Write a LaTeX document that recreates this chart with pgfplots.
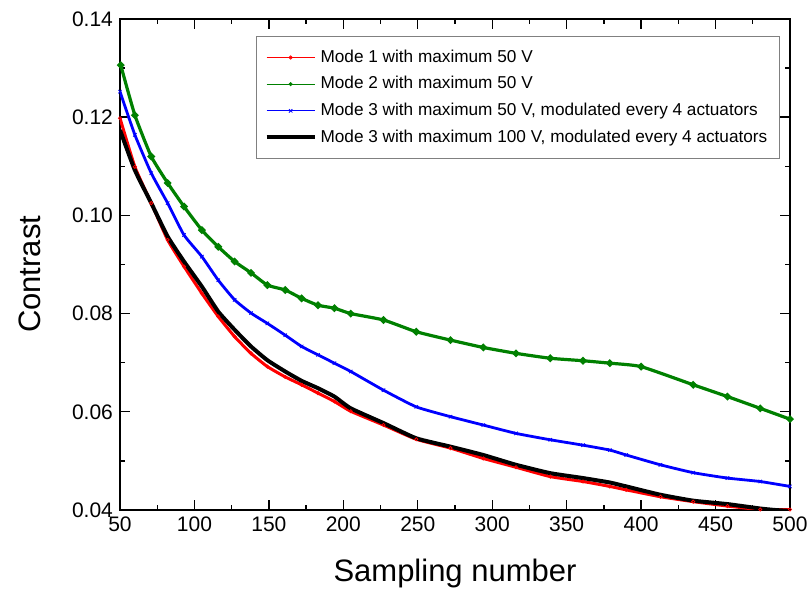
\documentclass[border=0pt]{standalone}
\usepackage{pgfplots}
\pgfplotsset{compat=1.18}
\usepackage{fontspec}
\setmainfont{Liberation Sans}
\definecolor{mgreen}{RGB}{0,128,0}
\begin{document}
\begin{tikzpicture}
\begin{axis}[
  at={(0,0)}, anchor=south west,
  scale only axis, width=335pt, height=245.5pt,
  xmin=50, xmax=500, ymin=0.04, ymax=0.14,
  xtick={50,100,...,500}, minor x tick num=1,
  ytick={0.04,0.06,...,0.141}, minor y tick num=1,
  tick align=inside, major tick length=5pt, minor tick length=2.5pt,
  every tick/.style={black, line width=0.7pt},
  axis line style={line width=1pt},
  yticklabel style={/pgf/number format/.cd, fixed, fixed zerofill, precision=2},
  /pgf/number format/assume math mode=true,
  ticklabel style={font=\fontsize{10.5}{12}\selectfont},
  xlabel={Sampling number}, ylabel={Contrast},
  every axis x label/.style={at={(axis description cs:0.5,0)}, anchor=base, yshift=-36pt, font=\fontsize{15.5}{18}\selectfont},
  every axis y label/.style={at={(axis description cs:-0.134,0.48)}, anchor=center, rotate=90, font=\fontsize{15.5}{18}\selectfont},
  legend style={at={(0.985,0.965)}, anchor=north east, draw=gray, line width=0.6pt,
    font=\fontsize{8.6}{10}\selectfont, row sep=1.6pt, inner ysep=4.5pt, inner xsep=4pt},
  legend cell align=left,
  legend image code/.code={\draw[mark repeat=2,mark phase=2] plot coordinates {(0cm,0cm) (0.42cm,0cm) (0.84cm,0cm)};},
  clip=true,
]
\addlegendimage{red, line width=0.4pt, mark=o, mark size=0.8pt}
\addlegendentry{Mode 1 with maximum 50 V}
\addlegendimage{mgreen, line width=0.4pt, mark=*, mark size=0.8pt}
\addlegendentry{Mode 2 with maximum 50 V}
\addlegendimage{blue, line width=0.4pt, mark=x, mark size=1.2pt}
\addlegendentry{Mode 3 with maximum 50 V, modulated every 4 actuators}
\addlegendimage{black, line width=2pt}
\addlegendentry{Mode 3 with maximum 100 V, modulated every 4 actuators}

% Mode 1 (red)
\addplot[forget plot, red, line width=1.5pt, smooth, tension=0.3, mark=o, mark size=0.8pt, mark options={fill=red!25, line width=0.4pt}] coordinates {
(50,0.1198) (60,0.1099) (71,0.1025) (82,0.0950) (93,0.0896) (105,0.0841) (116,0.0794)
(127,0.0753) (138,0.0719) (149,0.0692) (161,0.0671) (172,0.0655) (183,0.0638) (194,0.0621)
(205,0.0601) (227,0.0573) (249,0.0544) (272,0.0526) (294,0.0505) (316,0.0487) (339,0.0468)
(361,0.0458) (379,0.0448) (390,0.0441) (413,0.0427) (435,0.0417) (458,0.0408) (480,0.0401) (500,0.0401)
};
% Mode 2 (green)
\addplot[forget plot, mgreen, line width=1.6pt, smooth, tension=0.3, mark=*, mark size=0.9pt] coordinates {
(50.5,0.1306) (60,0.1204) (71,0.1120) (82,0.1066) (93,0.1018) (105,0.0970) (116,0.0936)
(127,0.0906) (138,0.0883) (149,0.0858) (161,0.0848) (172,0.0831) (183,0.0817) (194,0.0811)
(205,0.0800) (227,0.0787) (249,0.0763) (272,0.0746) (294,0.0731) (316,0.0719) (339,0.0709)
(361,0.0704) (379,0.0699) (400,0.0692) (435,0.0655) (458,0.0631) (480,0.0607) (500,0.0585)
};
% Mode 3 50 V (blue)
\addplot[forget plot, blue, line width=1.4pt, smooth, tension=0.3, mark=x, mark size=1.2pt, mark options={line width=0.4pt}] coordinates {
(50,0.1252) (60,0.1164) (71,0.1086) (82,0.1025) (93,0.0960) (105,0.0916) (116,0.0868)
(127,0.0828) (138,0.0801) (149,0.0780) (161,0.0756) (172,0.0733) (183,0.0716) (194,0.0699)
(205,0.0682) (227,0.0644) (249,0.0610) (272,0.0590) (294,0.0573) (316,0.0556) (339,0.0543)
(361,0.0532) (379,0.0522) (390,0.0512) (413,0.0492) (435,0.0476) (458,0.0465) (480,0.0458) (500,0.0448)
};
% Mode 3 100 V (black)
\addplot[forget plot, black, line width=2pt, smooth, tension=0.3] coordinates {
(50,0.1174) (60,0.1092) (71,0.1025) (82,0.0957) (93,0.0906) (105,0.0855) (116,0.0804)
(127,0.0767) (138,0.0733) (149,0.0705) (161,0.0682) (172,0.0663) (183,0.0648) (194,0.0631)
(205,0.0607) (227,0.0577) (249,0.0546) (272,0.0529) (294,0.0512) (316,0.0492) (339,0.0475)
(361,0.0465) (379,0.0456) (390,0.0448) (413,0.0431) (435,0.0419) (458,0.0412) (480,0.0403)
(490,0.0400) (500,0.0398)
};
\end{axis}
\pgfresetboundingbox
\path[use as bounding box] (-60pt,-41pt) rectangle (344.5pt,255pt);
\end{tikzpicture}
\end{document}
